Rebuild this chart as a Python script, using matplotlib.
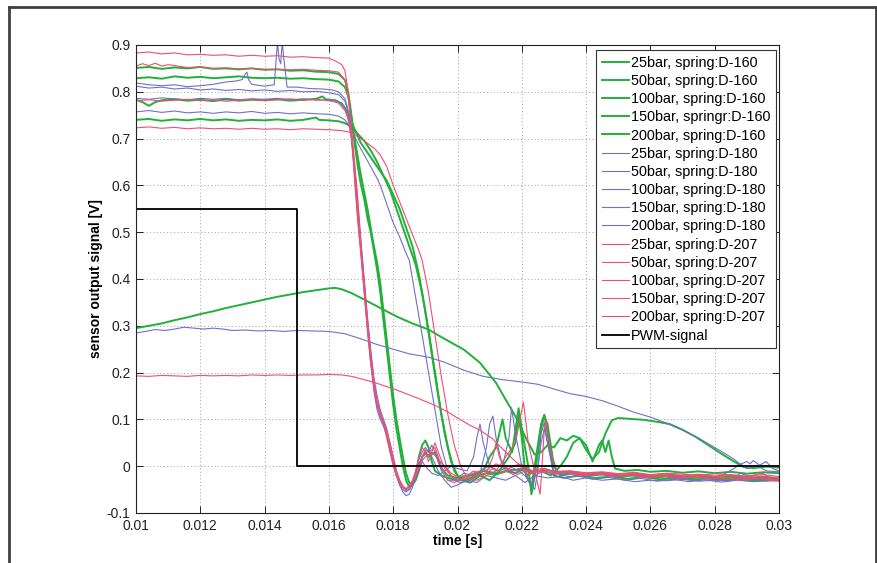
import numpy as np
import matplotlib
matplotlib.use("Agg")
import matplotlib.pyplot as plt
from matplotlib.lines import Line2D

plt.rcParams['font.family'] = ['Liberation Sans', 'DejaVu Sans']

# ---------------- data ----------------
x_ticks = [0.010, 0.012, 0.014, 0.016, 0.018, 0.020, 0.022, 0.024, 0.026, 0.028, 0.030]
x_tick_labels = ['0.01', '0.012', '0.014', '0.016', '0.018', '0.02', '0.022', '0.024', '0.026', '0.028', '0.03']
y_ticks = [-0.1, 0.0, 0.1, 0.2, 0.3, 0.4, 0.5, 0.6, 0.7, 0.8, 0.9]
y_tick_labels = ['-0.1', '0', '0.1', '0.2', '0.3', '0.4', '0.5', '0.6', '0.7', '0.8', '0.9']

labels_d160 = ['25bar, spring:D-160', '50bar, spring:D-160', '100bar, spring:D-160',
               '150bar, springr:D-160', '200bar, spring:D-160']
labels_d180 = ['25bar, spring:D-180', '50bar, spring:D-180', '100bar, spring:D-180',
               '150bar, spring:D-180', '200bar, spring:D-180']
labels_d207 = ['25bar, spring:D-207', '50bar, spring:D-207', '100bar, spring:D-207',
               '150bar, spring:D-207', '200bar, spring:D-207']
label_pwm = 'PWM-signal'

# (time [s], signal [V]) pairs
g1 = [(0.0100,0.851),(0.0104,0.853),(0.0108,0.849),(0.0112,0.852),(0.0116,0.850),(0.0120,0.853),(0.0124,0.849),
      (0.0128,0.850),(0.0132,0.848),(0.0136,0.850),(0.0140,0.847),(0.0144,0.848),(0.0148,0.845),(0.0152,0.846),
      (0.0156,0.843),(0.0160,0.842),(0.0163,0.838),(0.0165,0.825),(0.0166,0.80),(0.0167,0.75),(0.0168,0.69),
      (0.0169,0.64),(0.0170,0.60),(0.0171,0.57),(0.0172,0.53),(0.0173,0.50),(0.0174,0.46),(0.0175,0.42),
      (0.0176,0.37),(0.0177,0.31),(0.0178,0.25),(0.0179,0.19),(0.0180,0.13),(0.0181,0.08),(0.0182,0.04),
      (0.0183,0.0),(0.0184,-0.03),(0.0185,-0.045),(0.0186,-0.04),(0.0187,-0.02),(0.0188,0.02),(0.0189,0.045),
      (0.0190,0.055),(0.0191,0.04),(0.0192,0.01),(0.0193,-0.01),(0.0195,-0.02),(0.0197,-0.025),(0.0200,-0.03),
      (0.0203,-0.027),(0.0206,-0.02),(0.0209,-0.015),(0.0212,-0.018),(0.0215,-0.01),(0.0218,-0.015),
      (0.0221,-0.005),(0.0224,-0.012),(0.0228,-0.008),(0.0232,-0.015),(0.0236,-0.012),(0.0240,-0.018),
      (0.0245,-0.014),(0.0250,-0.02),(0.0255,-0.017),(0.0260,-0.022),(0.0265,-0.019),(0.0270,-0.024),
      (0.0275,-0.021),(0.0280,-0.025),(0.0285,-0.022),(0.0290,-0.026),(0.0295,-0.024),(0.0300,-0.027)]

g2 = [(0.0100,0.829),(0.0104,0.831),(0.0108,0.828),(0.0112,0.833),(0.0116,0.830),(0.0120,0.832),(0.0124,0.829),
      (0.0128,0.831),(0.0132,0.833),(0.0136,0.830),(0.0140,0.829),(0.0144,0.830),(0.0148,0.828),(0.0152,0.829),
      (0.0156,0.827),(0.0160,0.826),(0.0163,0.822),(0.0165,0.81),(0.0166,0.79),(0.0167,0.745),(0.0168,0.70),
      (0.0169,0.66),(0.0170,0.62),(0.0171,0.585),(0.0172,0.55),(0.0173,0.51),(0.0174,0.47),(0.0175,0.435),
      (0.0176,0.39),(0.0177,0.33),(0.0178,0.27),(0.0179,0.21),(0.0180,0.15),(0.0181,0.10),(0.0182,0.06),
      (0.0183,0.02),(0.0184,-0.015),(0.0185,-0.035),(0.0186,-0.04),(0.0187,-0.03),(0.0188,-0.01),(0.0189,0.02),
      (0.0190,0.03),(0.0191,0.02),(0.0193,0.03),(0.0195,-0.005),(0.0197,-0.02),(0.0200,-0.025),(0.0204,-0.02),
      (0.0208,-0.01),(0.0212,-0.015),(0.0216,-0.01),(0.0220,-0.005),(0.0223,-0.015),(0.0226,-0.01),
      (0.0229,-0.02),(0.0232,0.0),(0.0234,0.02),(0.0236,0.05),(0.0238,0.06),(0.0240,0.045),(0.0242,0.01),
      (0.0244,0.045),(0.0245,0.055),(0.0246,0.03),(0.0247,0.055),(0.0248,0.02),(0.0249,-0.005),(0.0252,-0.01),
      (0.0256,-0.008),(0.0260,-0.012),(0.0265,-0.01),(0.0270,-0.014),(0.0275,-0.011),(0.0280,-0.015),
      (0.0285,-0.012),(0.0290,-0.016),(0.0295,-0.013),(0.0300,-0.015)]

g3 = [(0.0100,0.783),(0.0102,0.778),(0.0104,0.770),(0.0106,0.778),(0.0108,0.782),(0.0112,0.784),(0.0116,0.781),
      (0.0120,0.783),(0.0124,0.780),(0.0128,0.784),(0.0132,0.781),(0.0136,0.783),(0.0140,0.782),(0.0144,0.784),
      (0.0148,0.781),(0.0152,0.783),(0.0156,0.785),(0.0158,0.790),(0.0159,0.784),(0.0162,0.782),(0.0164,0.775),
      (0.0166,0.755),(0.0168,0.72),(0.0170,0.69),(0.0172,0.67),(0.0174,0.65),(0.0176,0.63),(0.0178,0.61),
      (0.0180,0.58),(0.0182,0.55),(0.0184,0.51),(0.0186,0.47),(0.0188,0.41),(0.0190,0.33),(0.0192,0.24),
      (0.0194,0.15),(0.0196,0.07),(0.0198,0.01),(0.0200,-0.02),(0.0202,-0.03),(0.0205,-0.025),(0.0208,-0.01),
      (0.0210,0.02),(0.0212,0.04),(0.0214,0.10),(0.0215,0.06),(0.0217,0.03),(0.0219,0.124),(0.0220,0.08),
      (0.0222,0.0),(0.0223,-0.06),(0.0224,-0.02),(0.0226,0.08),(0.0227,0.108),(0.0228,0.09),(0.0230,0.0),
      (0.0232,-0.02),(0.0235,-0.015),(0.0240,-0.02),(0.0245,-0.018),(0.0250,-0.022),(0.0255,-0.02),
      (0.0260,-0.025),(0.0265,-0.022),(0.0270,-0.027),(0.0275,-0.024),(0.0280,-0.028),(0.0285,-0.025),
      (0.0290,-0.03),(0.0295,-0.027),(0.0300,-0.03)]

g4 = [(0.0100,0.740),(0.0104,0.742),(0.0108,0.738),(0.0112,0.741),(0.0116,0.739),(0.0120,0.742),(0.0124,0.739),
      (0.0128,0.741),(0.0132,0.738),(0.0136,0.740),(0.0140,0.739),(0.0144,0.741),(0.0148,0.738),(0.0152,0.740),
      (0.0156,0.745),(0.0157,0.740),(0.0160,0.739),(0.0163,0.737),(0.0165,0.733),(0.0167,0.725),(0.0169,0.71),
      (0.0171,0.695),(0.0173,0.675),(0.0175,0.65),(0.0177,0.62),(0.0179,0.59),(0.0181,0.55),(0.0183,0.51),
      (0.0185,0.47),(0.0187,0.43),(0.0189,0.37),(0.0191,0.29),(0.0193,0.20),(0.0195,0.11),(0.0197,0.04),
      (0.0199,-0.01),(0.0201,-0.03),(0.0204,-0.035),(0.0207,-0.02),(0.0210,-0.03),(0.0213,-0.01),(0.0216,0.02),
      (0.0218,0.05),(0.0219,0.11),(0.0220,0.06),(0.0221,-0.01),(0.0223,-0.045),(0.0224,0.0),(0.0226,0.09),
      (0.0227,0.11),(0.0228,0.07),(0.0230,-0.02),(0.0233,-0.025),(0.0238,-0.02),(0.0243,-0.025),(0.0248,-0.022),
      (0.0253,-0.027),(0.0258,-0.023),(0.0263,-0.028),(0.0268,-0.025),(0.0273,-0.029),(0.0278,-0.026),
      (0.0283,-0.03),(0.0288,-0.027),(0.0293,-0.031),(0.0300,-0.03)]

g5 = [(0.0100,0.295),(0.0104,0.300),(0.0108,0.305),(0.0112,0.312),(0.0116,0.318),(0.0120,0.325),(0.0124,0.331),
      (0.0128,0.338),(0.0132,0.344),(0.0136,0.350),(0.0140,0.356),(0.0144,0.362),(0.0148,0.367),(0.0152,0.372),
      (0.0156,0.376),(0.0160,0.380),(0.0162,0.381),(0.0164,0.378),(0.0167,0.370),(0.0171,0.356),(0.0176,0.338),
      (0.0181,0.32),(0.0186,0.305),(0.0191,0.292),(0.0196,0.272),(0.0202,0.249),(0.0207,0.221),(0.0212,0.178),
      (0.0215,0.142),(0.0218,0.107),(0.02215,0.057),(0.0224,0.025),(0.0226,0.03),(0.0228,0.045),(0.0230,0.04),
      (0.0232,0.06),(0.0234,0.055),(0.0236,0.065),(0.0238,0.06),(0.0240,0.035),(0.0242,0.015),(0.0244,0.03),
      (0.0246,0.07),(0.0248,0.098),(0.0250,0.103),(0.0254,0.101),(0.0258,0.099),(0.0262,0.095),(0.0266,0.09),
      (0.0270,0.078),(0.0274,0.063),(0.0278,0.045),(0.0282,0.027),(0.0286,0.01),(0.0289,-0.002),(0.0292,-0.004),
      (0.0296,-0.001),(0.0300,-0.003)]

b1 = [(0.0100,0.819),(0.0104,0.815),(0.0108,0.813),(0.0112,0.815),(0.0116,0.811),(0.0120,0.813),(0.0124,0.816),
      (0.0128,0.821),(0.0131,0.823),(0.0133,0.826),(0.01340,0.838),(0.01345,0.842),(0.0135,0.826),(0.0136,0.816),
      (0.0140,0.812),(0.0143,0.815),(0.01435,0.86),(0.01440,0.905),(0.01445,0.87),(0.01450,0.86),(0.01455,0.905),
      (0.01460,0.87),(0.01470,0.810),(0.0150,0.810),(0.0154,0.807),(0.0158,0.806),(0.0161,0.804),(0.0163,0.80),
      (0.0165,0.785),(0.0166,0.76),(0.0167,0.71),(0.0168,0.63),(0.0169,0.54),(0.0170,0.46),(0.0171,0.38),
      (0.0172,0.30),(0.0173,0.23),(0.0174,0.17),(0.0175,0.13),(0.0176,0.105),(0.0177,0.09),(0.0178,0.07),
      (0.0179,0.04),(0.0180,0.01),(0.0181,-0.02),(0.0182,-0.04),(0.0183,-0.055),(0.0184,-0.063),(0.0185,-0.06),
      (0.0186,-0.045),(0.0187,-0.02),(0.0188,0.005),(0.0189,0.02),(0.0190,0.025),(0.0191,0.035),(0.0192,0.02),
      (0.0194,-0.01),(0.0196,-0.03),(0.0198,-0.045),(0.0200,-0.04),(0.0203,-0.03),(0.0206,-0.035),(0.0209,-0.02),
      (0.0212,-0.025),(0.0215,-0.03),(0.0218,-0.02),(0.0221,-0.035),(0.0224,-0.02),(0.0228,-0.025),
      (0.0232,-0.022),(0.0236,-0.03),(0.0240,-0.025),(0.0245,-0.03),(0.0250,-0.027),(0.0255,-0.033),
      (0.0260,-0.03),(0.0265,-0.031),(0.0270,-0.028),(0.0275,-0.032),(0.0280,-0.03),(0.0285,-0.031),
      (0.0288,-0.015),(0.0290,-0.02),(0.0295,-0.028),(0.0300,-0.03)]

b2 = [(0.0100,0.812),(0.0104,0.808),(0.0108,0.810),(0.0112,0.806),(0.0116,0.808),(0.0120,0.804),(0.0124,0.806),
      (0.0128,0.803),(0.0132,0.805),(0.0136,0.802),(0.0140,0.804),(0.0144,0.801),(0.0148,0.803),(0.0152,0.800),
      (0.0156,0.801),(0.0160,0.798),(0.0163,0.794),(0.0165,0.78),(0.0166,0.755),(0.0167,0.71),(0.0168,0.64),
      (0.0169,0.56),(0.0170,0.48),(0.0171,0.40),(0.0172,0.32),(0.0173,0.25),(0.0174,0.19),(0.0175,0.15),
      (0.0176,0.12),(0.0177,0.10),(0.0178,0.08),(0.0179,0.05),(0.0180,0.02),(0.0181,-0.01),(0.0182,-0.03),
      (0.0183,-0.045),(0.0184,-0.052),(0.0185,-0.05),(0.0186,-0.04),(0.0187,-0.025),(0.0188,-0.01),
      (0.0189,0.01),(0.0190,0.0),(0.0192,-0.015),(0.0194,-0.02),(0.0196,-0.01),(0.0198,0.0),(0.0200,-0.005),
      (0.0203,-0.01),(0.0205,0.02),(0.0206,0.06),(0.0207,0.09),(0.0208,0.05),(0.0210,0.0),(0.0213,-0.01),
      (0.0216,0.0),(0.0219,-0.01),(0.0221,-0.02),(0.0223,-0.04),(0.0225,0.0),(0.0226,0.05),(0.0227,0.08),
      (0.0228,0.05),(0.0230,-0.01),(0.0233,-0.02),(0.0237,-0.015),(0.0241,-0.02),(0.0246,-0.016),
      (0.0251,-0.021),(0.0256,-0.018),(0.0261,-0.022),(0.0266,-0.019),(0.0271,-0.023),(0.0276,-0.02),
      (0.0281,-0.024),(0.0286,-0.005),(0.0288,0.005),(0.0290,-0.005),(0.0293,0.002),(0.0296,-0.01),
      (0.0300,-0.012)]

b3 = [(0.0100,0.786),(0.0104,0.784),(0.0108,0.787),(0.0112,0.785),(0.0116,0.783),(0.0120,0.786),(0.0124,0.784),
      (0.0128,0.786),(0.0132,0.783),(0.0136,0.785),(0.0140,0.784),(0.0144,0.786),(0.0148,0.783),(0.0152,0.785),
      (0.0156,0.782),(0.0160,0.783),(0.0163,0.779),(0.0165,0.765),(0.0166,0.745),(0.0167,0.70),(0.0168,0.62),
      (0.0169,0.53),(0.0170,0.45),(0.0171,0.37),(0.0172,0.29),(0.0173,0.22),(0.0174,0.16),(0.0175,0.12),
      (0.0176,0.10),(0.0177,0.085),(0.0178,0.065),(0.0179,0.035),(0.0180,0.005),(0.0181,-0.02),(0.0182,-0.04),
      (0.0183,-0.05),(0.0184,-0.055),(0.0185,-0.05),(0.0186,-0.035),(0.0187,-0.01),(0.0188,0.015),(0.0189,0.03),
      (0.0190,0.04),(0.0191,0.03),(0.0192,0.045),(0.0193,0.03),(0.0195,-0.01),(0.0197,-0.03),(0.0199,-0.03),
      (0.0202,-0.015),(0.0205,-0.02),(0.0208,-0.005),(0.0210,0.0),(0.0212,-0.01),(0.0215,-0.005),
      (0.0218,-0.015),(0.0221,0.0),(0.0224,-0.02),(0.0227,-0.01),(0.0230,-0.018),(0.0235,-0.012),
      (0.0240,-0.02),(0.0245,-0.015),(0.0250,-0.022),(0.0255,-0.019),(0.0260,-0.024),(0.0265,-0.02),
      (0.0270,-0.025),(0.0275,-0.022),(0.0280,-0.027),(0.0285,-0.024),(0.0290,-0.026),(0.0295,-0.023),
      (0.0300,-0.025)]

b4 = [(0.0100,0.757),(0.0104,0.760),(0.0108,0.756),(0.0112,0.759),(0.0116,0.755),(0.0120,0.757),(0.0124,0.754),
      (0.0128,0.757),(0.0132,0.755),(0.0136,0.758),(0.0140,0.754),(0.0144,0.756),(0.0148,0.753),(0.0152,0.755),
      (0.0156,0.753),(0.0160,0.752),(0.0163,0.748),(0.0165,0.74),(0.0167,0.72),(0.0169,0.69),(0.0171,0.665),
      (0.0173,0.64),(0.0175,0.615),(0.0176,0.60),(0.0178,0.56),(0.0180,0.52),(0.0182,0.49),(0.0184,0.455),
      (0.0185,0.44),(0.0187,0.36),(0.0189,0.28),(0.0191,0.20),(0.0193,0.12),(0.0195,0.04),(0.0197,-0.01),
      (0.0199,-0.03),(0.0201,-0.035),(0.0204,-0.03),(0.0207,-0.015),(0.0209,0.04),(0.0210,0.09),(0.0211,0.107),
      (0.0212,0.06),(0.0214,0.0),(0.0216,0.06),(0.02168,0.125),(0.0218,0.07),(0.0220,0.0),(0.0222,-0.03),
      (0.0224,-0.05),(0.0225,-0.01),(0.0226,0.07),(0.0227,0.093),(0.0228,0.05),(0.0230,-0.02),(0.0233,-0.025),
      (0.0237,-0.02),(0.0242,-0.028),(0.0247,-0.024),(0.0252,-0.03),(0.0257,-0.026),(0.0262,-0.032),
      (0.0267,-0.028),(0.0272,-0.033),(0.0277,-0.029),(0.0282,-0.034),(0.0287,-0.03),(0.0292,-0.033),
      (0.0300,-0.03)]

b5 = [(0.0100,0.285),(0.0103,0.288),(0.0106,0.292),(0.0109,0.290),(0.0112,0.293),(0.0115,0.297),(0.0118,0.295),
      (0.0121,0.293),(0.0124,0.295),(0.0127,0.293),(0.0130,0.290),(0.0134,0.291),(0.0138,0.289),(0.0142,0.290),
      (0.0146,0.288),(0.0150,0.290),(0.0155,0.289),(0.0160,0.288),(0.0165,0.283),(0.0170,0.272),(0.0175,0.260),
      (0.0180,0.250),(0.0185,0.240),(0.0191,0.233),(0.0196,0.222),(0.0202,0.205),(0.0208,0.192),(0.0214,0.185),
      (0.0220,0.180),(0.0225,0.175),(0.0230,0.165),(0.0235,0.155),(0.0240,0.149),(0.0245,0.140),(0.0250,0.128),
      (0.0255,0.115),(0.0260,0.105),(0.0265,0.092),(0.0270,0.077),(0.0275,0.060),(0.0280,0.040),(0.0283,0.028),
      (0.0286,0.015),(0.0288,0.004),(0.0290,0.010),(0.0291,0.005),(0.0292,0.012),(0.0294,0.002),(0.0296,0.010),
      (0.0298,-0.005),(0.0300,-0.010)]

r1 = [(0.0100,0.883),(0.0104,0.885),(0.0108,0.881),(0.0112,0.883),(0.0116,0.879),(0.0120,0.880),(0.0124,0.878),
      (0.0128,0.879),(0.0132,0.876),(0.0136,0.878),(0.0140,0.876),(0.0144,0.877),(0.0148,0.874),(0.0152,0.875),
      (0.0156,0.873),(0.0160,0.872),(0.0162,0.866),(0.0164,0.858),(0.0165,0.845),(0.0166,0.80),(0.0167,0.725),
      (0.0168,0.65),(0.0169,0.57),(0.0170,0.47),(0.0171,0.39),(0.0172,0.31),(0.0173,0.24),(0.0174,0.18),
      (0.0175,0.14),(0.0176,0.115),(0.0177,0.095),(0.0178,0.075),(0.0179,0.05),(0.0180,0.02),(0.0181,-0.01),
      (0.0182,-0.03),(0.0183,-0.042),(0.0184,-0.048),(0.0185,-0.045),(0.0186,-0.035),(0.0188,-0.005),
      (0.0189,0.012),(0.0190,0.02),(0.0192,0.03),(0.0194,0.015),(0.0196,0.0),(0.0198,-0.015),(0.0200,-0.022),
      (0.0203,-0.02),(0.0206,-0.012),(0.0209,-0.008),(0.0212,0.005),(0.0215,-0.004),(0.0218,-0.01),
      (0.0221,0.0),(0.0224,-0.015),(0.0227,-0.004),(0.0230,-0.012),(0.0235,-0.01),(0.0240,-0.014),
      (0.0245,-0.012),(0.0250,-0.016),(0.0255,-0.013),(0.0260,-0.018),(0.0265,-0.015),(0.0270,-0.017),
      (0.0275,-0.02),(0.0280,-0.016),(0.0285,-0.019),(0.0290,-0.021),(0.0295,-0.018),(0.0300,-0.022)]

r2 = [(0.0100,0.855),(0.0102,0.860),(0.0104,0.856),(0.0106,0.861),(0.0108,0.855),(0.0110,0.858),(0.0113,0.855),
      (0.0116,0.852),(0.0120,0.853),(0.0124,0.850),(0.0128,0.851),(0.0132,0.849),(0.0136,0.850),(0.0140,0.848),
      (0.0144,0.848),(0.0148,0.847),(0.0152,0.848),(0.0156,0.846),(0.0160,0.845),(0.0163,0.842),(0.0165,0.825),
      (0.0166,0.79),(0.0167,0.72),(0.0168,0.61),(0.0169,0.52),(0.0170,0.45),(0.0171,0.37),(0.0172,0.29),
      (0.0173,0.22),(0.0174,0.17),(0.0175,0.13),(0.0176,0.11),(0.0177,0.09),(0.0178,0.06),(0.0179,0.03),
      (0.0180,0.0),(0.0181,-0.02),(0.0182,-0.035),(0.0183,-0.045),(0.0184,-0.05),(0.0185,-0.046),
      (0.0187,-0.02),(0.0188,0.0),(0.0189,0.02),(0.0190,0.035),(0.0191,0.03),(0.0193,0.04),(0.0195,0.0),
      (0.0197,-0.03),(0.0199,-0.035),(0.0202,-0.025),(0.0205,-0.01),(0.0208,-0.02),(0.0211,-0.005),
      (0.0214,-0.015),(0.0217,0.0),(0.0220,0.005),(0.0222,-0.02),(0.0224,-0.01),(0.0226,-0.005),
      (0.0229,-0.015),(0.0233,-0.01),(0.0238,-0.02),(0.0243,-0.013),(0.0248,-0.022),(0.0253,-0.018),
      (0.0258,-0.025),(0.0263,-0.02),(0.0268,-0.026),(0.0273,-0.022),(0.0278,-0.027),(0.0283,-0.024),
      (0.0288,-0.03),(0.0293,-0.025),(0.0297,-0.03),(0.0300,-0.032)]

r3 = [(0.0100,0.781),(0.0104,0.783),(0.0108,0.780),(0.0112,0.782),(0.0116,0.784),(0.0120,0.781),(0.0124,0.783),
      (0.0128,0.780),(0.0132,0.782),(0.0136,0.784),(0.0140,0.781),(0.0144,0.783),(0.0148,0.785),(0.0152,0.782),
      (0.0156,0.784),(0.0160,0.781),(0.0163,0.776),(0.0165,0.76),(0.0166,0.74),(0.0167,0.70),(0.0168,0.63),
      (0.0169,0.55),(0.0170,0.47),(0.0171,0.39),(0.0172,0.31),(0.0173,0.24),(0.0174,0.18),(0.0175,0.135),
      (0.0176,0.11),(0.0177,0.09),(0.0178,0.065),(0.0179,0.035),(0.0180,0.005),(0.0181,-0.02),(0.0182,-0.035),
      (0.0183,-0.045),(0.0184,-0.048),(0.0185,-0.042),(0.0186,-0.03),(0.0187,-0.01),(0.0188,0.02),(0.0189,0.04),
      (0.0190,0.03),(0.0191,0.01),(0.0192,0.03),(0.0193,0.05),(0.0194,0.03),(0.0196,-0.005),(0.0198,-0.02),
      (0.0200,-0.03),(0.0203,-0.028),(0.0206,-0.02),(0.0209,-0.015),(0.0211,0.02),(0.0212,0.05),(0.0213,0.02),
      (0.0215,-0.01),(0.0218,-0.02),(0.0221,-0.01),(0.0224,-0.015),(0.0227,-0.005),(0.0230,-0.015),
      (0.0235,-0.01),(0.0240,-0.017),(0.0245,-0.013),(0.0250,-0.018),(0.0255,-0.015),(0.0260,-0.02),
      (0.0265,-0.016),(0.0270,-0.021),(0.0275,-0.018),(0.0280,-0.022),(0.0285,-0.019),(0.0290,-0.024),
      (0.0295,-0.021),(0.0300,-0.025)]

r4 = [(0.0100,0.723),(0.0104,0.725),(0.0108,0.722),(0.0112,0.724),(0.0116,0.721),(0.0120,0.723),(0.0124,0.721),
      (0.0128,0.722),(0.0132,0.720),(0.0136,0.722),(0.0140,0.720),(0.0144,0.721),(0.0148,0.719),(0.0152,0.721),
      (0.0156,0.720),(0.0160,0.719),(0.0164,0.717),(0.0167,0.713),(0.0170,0.70),(0.0172,0.69),(0.0174,0.68),
      (0.0176,0.665),(0.0178,0.64),(0.0180,0.60),(0.0182,0.565),(0.0184,0.53),(0.0186,0.495),(0.0188,0.46),
      (0.0189,0.44),(0.0191,0.37),(0.0193,0.28),(0.0195,0.19),(0.0197,0.11),(0.0199,0.045),(0.0201,0.0),
      (0.0203,-0.025),(0.0206,-0.03),(0.0209,-0.02),(0.0212,-0.01),(0.0215,0.02),(0.0218,0.05),(0.0220,0.12),
      (0.02205,0.137),(0.0221,0.11),(0.0222,0.05),(0.0224,-0.01),(0.02257,-0.06),(0.0226,-0.03),(0.0227,0.08),
      (0.02275,0.10),(0.0229,0.03),(0.0231,-0.01),(0.0235,-0.015),(0.0240,-0.02),(0.0245,-0.017),
      (0.0250,-0.022),(0.0255,-0.019),(0.0260,-0.024),(0.0265,-0.02),(0.0270,-0.025),(0.0275,-0.022),
      (0.0280,-0.027),(0.0285,-0.024),(0.0290,-0.028),(0.0295,-0.026),(0.0300,-0.03)]

r5 = [(0.0100,0.193),(0.0104,0.192),(0.0108,0.194),(0.0112,0.193),(0.0116,0.192),(0.0120,0.194),(0.0124,0.193),
      (0.0128,0.194),(0.0132,0.193),(0.0136,0.195),(0.0140,0.194),(0.0144,0.195),(0.0148,0.194),(0.0152,0.195),
      (0.0156,0.195),(0.0160,0.196),(0.0164,0.195),(0.0167,0.192),(0.0171,0.185),(0.0175,0.177),(0.0181,0.163),
      (0.0187,0.147),(0.0193,0.130),(0.0197,0.116),(0.0200,0.103),(0.0204,0.087),(0.0207,0.077),(0.0211,0.058),
      (0.0215,0.030),(0.0218,0.010),(0.0220,0.0),(0.0223,-0.01),(0.0226,-0.012),(0.0230,-0.015),(0.0235,-0.012),
      (0.0240,-0.016),(0.0245,-0.014),(0.0250,-0.018),(0.0255,-0.015),(0.0260,-0.019),(0.0265,-0.016),
      (0.0270,-0.02),(0.0275,-0.017),(0.0280,-0.021),(0.0285,-0.018),(0.0290,-0.022),(0.0295,-0.015),
      (0.0298,-0.03),(0.0300,-0.026)]

pwm_t = [0.010, 0.015, 0.015, 0.030]
pwm_v = [0.55, 0.55, 0.0, 0.0]

green_series = [g1, g2, g3, g4, g5]
blue_series = [b1, b2, b3, b4, b5]
red_series = [r1, r2, r3, r4, r5]

# ---------------- styles ----------------
GREEN = '#22b03a'
BLUE = '#6f70c8'
RED = '#ee4f72'

fig = plt.figure(figsize=(8.78, 5.63), dpi=100)
ax = fig.add_axes([136 / 878, 50 / 563, 643 / 878, 468 / 563])

for data, lab in zip(green_series, labels_d160):
    arr = np.array(data)
    ax.plot(arr[:, 0], arr[:, 1], color=GREEN, lw=1.4, label=lab)
for data, lab in zip(blue_series, labels_d180):
    arr = np.array(data)
    ax.plot(arr[:, 0], arr[:, 1], color=BLUE, lw=0.8, label=lab)
for data, lab in zip(red_series, labels_d207):
    arr = np.array(data)
    ax.plot(arr[:, 0], arr[:, 1], color=RED, lw=0.8, label=lab)
ax.plot(pwm_t, pwm_v, color='black', lw=1.3, label=label_pwm)

ax.set_xlim(0.01, 0.03)
ax.set_ylim(-0.1, 0.9)
ax.set_xticks(x_ticks)
ax.set_xticklabels(x_tick_labels)
ax.set_yticks(y_ticks)
ax.set_yticklabels(y_tick_labels)
ax.tick_params(direction='in', length=5, width=0.7, top=True, right=True,
               labelsize=10, colors='#222222')
ax.tick_params(axis='x', pad=4)
ax.tick_params(axis='y', pad=4)
ax.grid(True, linestyle=(0, (1, 2.5)), color='#a0a0a0', lw=0.7)
for sp in ax.spines.values():
    sp.set_color('#222222')
    sp.set_linewidth(0.8)

ax.set_xlabel('time [s]', fontsize=10, fontweight='bold', labelpad=1)
ax.set_ylabel('sensor output signal [V]', fontsize=10, fontweight='bold', labelpad=3)

leg = ax.legend(loc='upper right', bbox_to_anchor=(776 / 878, 1 - 50 / 563),
                bbox_transform=fig.transFigure, fontsize=10.4,
                frameon=True, fancybox=False, shadow=False, framealpha=1,
                edgecolor='#333333', handlelength=1.9, handletextpad=0.1,
                labelspacing=0.29, borderpad=0.4, borderaxespad=0.0)
leg.get_frame().set_linewidth(0.8)

# outer frame (left, top, right edges)
fx0, fx1 = 9 / 878, 876 / 878
fy1 = 1 - 7 / 563
frame_kw = dict(transform=fig.transFigure, color='#404040', lw=2.0)
fig.add_artist(Line2D([fx0, fx0], [0, fy1], **frame_kw))
fig.add_artist(Line2D([fx0, fx1], [fy1, fy1], **frame_kw))
fig.add_artist(Line2D([fx1, fx1], [fy1, 0], **frame_kw))

fig.savefig('out.png', dpi=100)
